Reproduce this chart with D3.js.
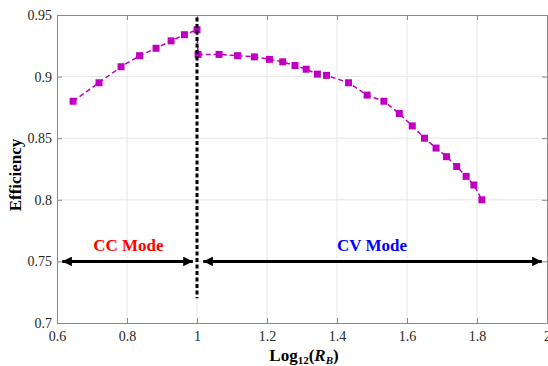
<!DOCTYPE html>
<html>
<head>
<meta charset="utf-8">
<script src="https://cdn.jsdelivr.net/npm/d3@7"></script>
<style>
  body { margin: 0; background: #fff; }
  svg text { font-family: "Liberation Serif", "Times New Roman", serif; }
</style>
</head>
<body>
<div id="chart"></div>
<script>
// efficiency vs log12(RB)
const logRb = [0.646, 0.72, 0.783, 0.836, 0.883, 0.926, 0.964, 1.0,
  1.003, 1.063, 1.116, 1.164, 1.207, 1.245, 1.28, 1.312, 1.344, 1.37, 1.433,
  1.486, 1.534, 1.578, 1.615, 1.65, 1.683, 1.713, 1.742, 1.769, 1.791, 1.814];
const efficiency = [0.880, 0.895, 0.908, 0.917, 0.923, 0.929, 0.934, 0.938,
  0.918, 0.918, 0.917, 0.916, 0.914, 0.912, 0.909, 0.906, 0.902, 0.901, 0.895,
  0.885, 0.880, 0.870, 0.860, 0.850, 0.842, 0.835, 0.827, 0.819, 0.812, 0.800];

const xTicks = [0.6, 0.8, 1, 1.2, 1.4, 1.6, 1.8, 2];
const yTicks = [0.7, 0.75, 0.8, 0.85, 0.9, 0.95];

const boundaryX = 1;
const boundaryY = [0.948, 0.72];
const modes = [
  {name: "CC Mode", from: 0.615, to: 0.988, labelX: 0.804, color: "#ff0000"},
  {name: "CV Mode", from: 1.018, to: 1.985, labelX: 1.5, color: "#0000ff"}
];
const arrowY = 0.75;

const size = {width: 548, height: 366};
const margin = {top: 15, right: 1, bottom: 43, left: 57};
const width = size.width - margin.left - margin.right;
const height = size.height - margin.top - margin.bottom;

const svg = d3.select("#chart").append("svg")
    .attr("width", size.width)
    .attr("height", size.height);

const defs = svg.append("defs");
defs.append("marker")
    .attr("id", "head")
    .attr("viewBox", "0 0 10 10")
    .attr("refX", 10).attr("refY", 5)
    .attr("markerWidth", 4.2).attr("markerHeight", 3.2)
    .attr("markerUnits", "strokeWidth")
    .attr("orient", "auto-start-reverse")
    .append("path")
    .attr("d", "M0,0 L10,5 L0,10 Z")
    .attr("fill", "#000");

const g = svg.append("g")
    .attr("transform", "translate(" + margin.left + "," + margin.top + ")");

const x = d3.scaleLinear().domain([0.6, 2]).range([0, width]);
const y = d3.scaleLinear().domain([0.7, 0.95]).range([height, 0]);

// grid
g.append("g").selectAll("line")
    .data(xTicks.slice(1, -1))
    .join("line")
    .attr("x1", d => x(d)).attr("x2", d => x(d))
    .attr("y1", 0).attr("y2", height)
    .attr("stroke", "#e6e6e6").attr("stroke-width", 1);
g.append("g").selectAll("line")
    .data(yTicks.slice(1, -1))
    .join("line")
    .attr("x1", 0).attr("x2", width)
    .attr("y1", d => y(d)).attr("y2", d => y(d))
    .attr("stroke", "#e6e6e6").attr("stroke-width", 1);

// axes (box)
const fmt = d => String(d);
const axisStyle = sel => {
  sel.select(".domain").attr("stroke", "#8a8a8a");
  sel.selectAll(".tick line").attr("stroke", "#8a8a8a");
  sel.selectAll(".tick text")
      .attr("fill", "#262626")
      .style("font-size", "14px");
};
g.append("g")
    .attr("transform", "translate(0," + height + ")")
    .call(d3.axisBottom(x).tickValues(xTicks).tickFormat(fmt).tickSizeInner(-5).tickSizeOuter(0).tickPadding(8))
    .call(axisStyle);
g.append("g")
    .call(d3.axisLeft(y).tickValues(yTicks).tickFormat(fmt).tickSizeInner(-5).tickSizeOuter(0).tickPadding(5))
    .call(axisStyle);
g.append("g")
    .call(d3.axisTop(x).tickValues(xTicks).tickFormat("").tickSizeInner(-5).tickSizeOuter(0))
    .call(axisStyle);
g.append("g")
    .attr("transform", "translate(" + width + ",0)")
    .call(d3.axisRight(y).tickValues(yTicks).tickFormat("").tickSizeInner(-5).tickSizeOuter(0))
    .call(axisStyle);

// data line
const line = d3.line().x((d, i) => x(logRb[i])).y(d => y(d));
g.append("path")
    .datum(efficiency)
    .attr("d", line)
    .attr("fill", "none")
    .attr("stroke", "#c000c0")
    .attr("stroke-width", 1.5)
    .attr("stroke-dasharray", "5,3");

g.append("g").selectAll("rect")
    .data(efficiency)
    .join("rect")
    .attr("x", (d, i) => x(logRb[i]) - 3.5)
    .attr("y", d => y(d) - 3.5)
    .attr("width", 7).attr("height", 7)
    .attr("fill", "#c000c0");

// boundary line
g.append("line")
    .attr("x1", x(boundaryX)).attr("x2", x(boundaryX))
    .attr("y1", y(boundaryY[0])).attr("y2", y(boundaryY[1]))
    .attr("stroke", "#000")
    .attr("stroke-width", 3)
    .attr("stroke-dasharray", "4,2.5");

// mode arrows
modes.forEach(m => {
  g.append("line")
      .attr("x1", x(m.from)).attr("x2", x(m.to))
      .attr("y1", y(arrowY)).attr("y2", y(arrowY))
      .attr("stroke", "#000")
      .attr("stroke-width", 3)
      .attr("marker-start", "url(#head)")
      .attr("marker-end", "url(#head)");
  g.append("text")
      .attr("x", x(m.labelX))
      .attr("y", y(arrowY) - 10)
      .attr("text-anchor", "middle")
      .attr("fill", m.color)
      .style("font-size", "17px")
      .style("font-weight", "bold")
      .text(m.name);
});

// axis labels
svg.append("text")
    .attr("transform", "translate(21," + (margin.top + height / 2 + 6) + ") rotate(-90)")
    .attr("text-anchor", "middle")
    .style("font-size", "17px")
    .style("font-weight", "bold")
    .text("Efficiency");

const xl = svg.append("text")
    .attr("x", margin.left + width / 2 + 2)
    .attr("y", 361)
    .attr("text-anchor", "middle")
    .style("font-size", "17px")
    .style("font-weight", "bold");
xl.append("tspan").text("Log");
xl.append("tspan").attr("dy", 3).style("font-size", "11px").text("12");
xl.append("tspan").attr("dy", -3).text("(");
xl.append("tspan").style("font-style", "italic").text("R");
xl.append("tspan").attr("dy", 3).style("font-size", "11px").style("font-style", "italic").text("B");
xl.append("tspan").attr("dy", -3).text(")");
</script>
</body>
</html>
